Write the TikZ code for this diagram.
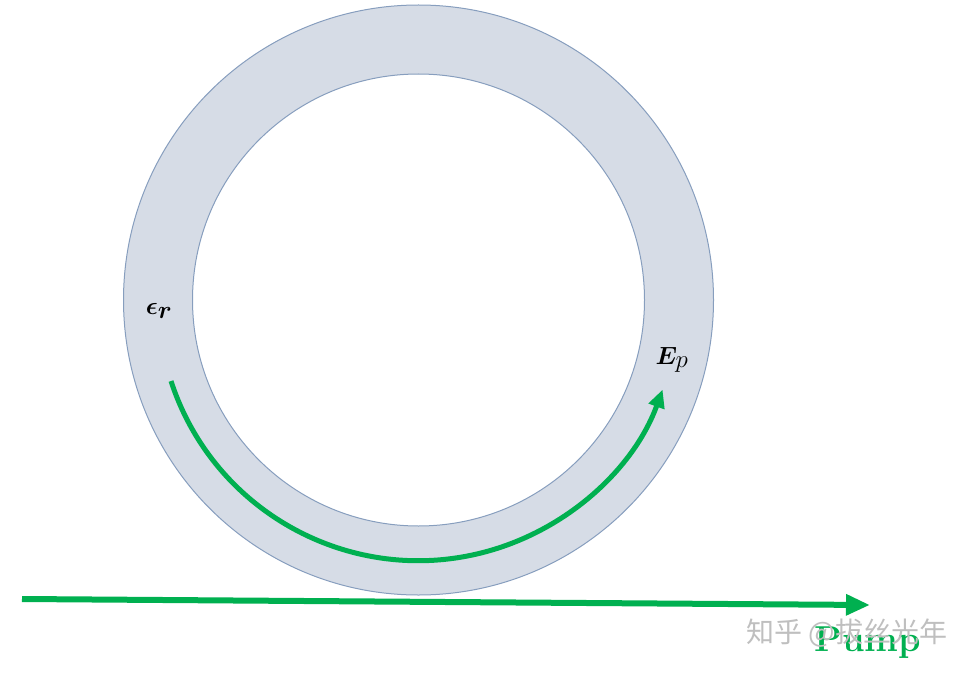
\documentclass[tikz,border=0pt]{standalone}
\usepackage{fontspec}
\usepackage{amsmath,bm}
\newfontfamily\cjk{Noto Sans CJK SC}
\usetikzlibrary{arrows.meta}
\definecolor{ringfill}{RGB}{214,220,230}
\definecolor{ringline}{RGB}{135,158,190}
\definecolor{pumpgreen}{RGB}{0,176,80}
\tikzset{
  ringedge/.style={draw=ringline, line width=1pt},
  greenarrow/.style={draw=pumpgreen, line width=5pt, -{Triangle[length=18pt,width=16pt]}},
  mathlabel/.style={inner sep=0pt, font=\fontsize{34}{38}\selectfont},
}
\begin{document}
\begin{tikzpicture}[x=1pt,y=-1pt]
\useasboundingbox (0,0) rectangle (977,674);
% ring
\path[fill=ringfill, even odd rule] (418.5,300) circle[radius=295] (418.5,300) circle[radius=226];
\draw[ringedge] (418.5,300) circle[radius=295];
\draw[ringedge] (418.5,300) circle[radius=226];
% labels
\node[mathlabel] (er) at (159,311) {$\bm{\epsilon_r}$};
\node[mathlabel] (ep) at (672,360) {$\bm{E}_{p}$};
% circulating arrow
\coordinate (arcstart) at (171,381);
\draw[greenarrow] (arcstart) arc[start angle=162, end angle=20, radius=260];
% pump line
\coordinate (pin) at (22,599);
\coordinate (pout) at (870,605);
\draw[greenarrow, line width=6pt, -{Triangle[length=24pt,width=20pt]}] (pin) -- (pout);
\node[text=pumpgreen, font=\fontsize{36}{40}\selectfont\bfseries, inner sep=0pt] (pump) at (868,643) {Pump};
\node[text=gray!50, font=\cjk\fontsize{28}{32}\selectfont, inner sep=0pt] (wm) at (847,633) {知乎 @拔丝光年};
\end{tikzpicture}
\end{document}
